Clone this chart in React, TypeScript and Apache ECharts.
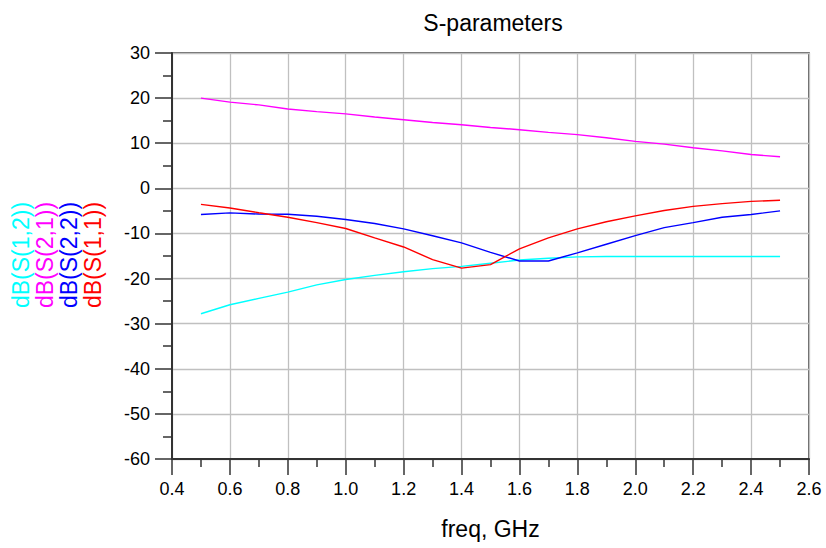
import React, { useEffect, useRef } from "react";
import * as echarts from "echarts";

const freq = [0.5, 0.6, 0.7, 0.8, 0.9, 1.0, 1.1, 1.2, 1.3, 1.4, 1.5, 1.6, 1.7, 1.8, 1.9, 2.0, 2.1, 2.2, 2.3, 2.4, 2.5];
const s12 = [-27.8, -25.8, -24.4, -23.0, -21.4, -20.2, -19.3, -18.5, -17.8, -17.3, -16.6, -15.9, -15.5, -15.2, -15.1, -15.1, -15.1, -15.1, -15.1, -15.1, -15.1];
const s21 = [20.0, 19.1, 18.5, 17.6, 17.0, 16.5, 15.8, 15.2, 14.6, 14.1, 13.5, 13.0, 12.4, 11.9, 11.2, 10.4, 9.8, 9.0, 8.3, 7.5, 7.0];
const s22 = [-5.8, -5.45, -5.7, -5.75, -6.2, -6.9, -7.8, -9.0, -10.5, -12.1, -14.2, -16.1, -16.1, -14.3, -12.4, -10.5, -8.7, -7.6, -6.4, -5.8, -5.0];
const s11 = [-3.55, -4.35, -5.4, -6.4, -7.6, -8.9, -11.0, -13.0, -15.8, -17.7, -16.9, -13.4, -11.0, -9.0, -7.4, -6.1, -4.9, -4.0, -3.4, -2.9, -2.65];

const seriesNames = ["dB(S(1,2))", "dB(S(2,1))", "dB(S(2,2))", "dB(S(1,1))"];
const seriesColors = ["#00ffff", "#ff00ff", "#0000ff", "#ff0000"];
const seriesValues = [s12, s21, s22, s11];

const FONT = "'Liberation Sans', Arial, sans-serif";

export default function App() {
  const ref = useRef<HTMLDivElement>(null);
  useEffect(() => {
    document.body.style.margin = "0";
    if (!ref.current) return;
    const chart = echarts.init(ref.current, undefined, { renderer: "svg" });
    const legendX = [21, 45, 69, 93];
    chart.setOption({
      animation: false,
      backgroundColor: "#ffffff",
      title: {
        text: "S-parameters",
        left: 488,
        top: 6,
        textAlign: "center",
        textStyle: { fontFamily: FONT, fontSize: 23, fontWeight: "normal", color: "#000" },
      },
      grid: {
        left: 172,
        right: 17,
        top: 53,
        bottom: 89,
        show: true,
        borderColor: "#333",
        borderWidth: 1.5,
        backgroundColor: "transparent",
      },
      xAxis: {
        type: "value",
        min: 0.4,
        max: 2.6,
        interval: 0.2,
        name: "freq, GHz",
        nameLocation: "middle",
        nameGap: 58,
        nameTextStyle: { fontFamily: FONT, fontSize: 23, color: "#000" },
        axisLine: { show: true, onZero: false, lineStyle: { color: "#333", width: 2 } },
        axisTick: { show: true, length: 16, lineStyle: { color: "#333", width: 1.5 } },
        minorTick: { show: true, splitNumber: 2, length: 8, lineStyle: { color: "#333", width: 1.5 } },
        splitLine: { show: true, lineStyle: { color: "#c0c0c0", width: 1.3 } },
        axisLabel: {
          fontFamily: FONT,
          fontSize: 18,
          color: "#000",
          margin: 21,
          formatter: (v: number) => v.toFixed(1),
        },
      },
      yAxis: {
        type: "value",
        min: -60,
        max: 30,
        interval: 10,
        axisLine: { show: true, onZero: false, lineStyle: { color: "#333", width: 2 } },
        axisTick: { show: true, length: 17, lineStyle: { color: "#333", width: 1.5 } },
        minorTick: { show: true, splitNumber: 2, length: 9, lineStyle: { color: "#333", width: 1.5 } },
        splitLine: { show: true, lineStyle: { color: "#c0c0c0", width: 1.3 } },
        axisLabel: { fontFamily: FONT, fontSize: 18, color: "#000", margin: 22 },
      },
      graphic: seriesNames.map((name, i) => ({
        type: "text",
        x: legendX[i],
        y: 255,
        rotation: Math.PI / 2,
        style: {
          text: name,
          fill: seriesColors[i],
          font: `23px ${FONT}`,
          textAlign: "center",
          textVerticalAlign: "middle",
        },
      })),
      series: seriesNames.map((name, i) => ({
        name,
        type: "line",
        data: freq.map((f, j) => [f, seriesValues[i][j]]),
        showSymbol: false,
        symbol: "none",
        lineStyle: { color: seriesColors[i], width: 1.4 },
        itemStyle: { color: seriesColors[i] },
      })),
    });
    return () => chart.dispose();
  }, []);
  return <div ref={ref} style={{ width: 826, height: 548 }} />;
}
